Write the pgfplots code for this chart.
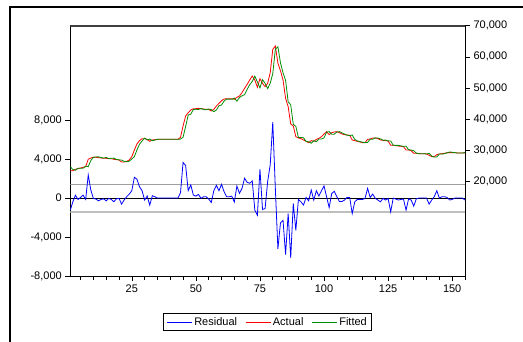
\documentclass[border=0pt]{standalone}
\usepackage{pgfplots}
\pgfplotsset{compat=1.18}
\usepackage{pgfplotstable}
\usepackage{fontspec}
\setmainfont{Liberation Sans}

\pgfplotstableread{
t res act fit
1 -1240 23420 24660
2 -380 23420 23800
3 300 23850 23550
4 -140 24070 24210
5 70 24280 24210
6 300 24500 24200
7 -140 24710 24850
8 2380 27100 24720
9 830 27500 26670
10 -30 27710 27740
11 -100 27710 27810
12 -280 27600 27880
13 -140 27500 27640
14 -70 27390 27460
15 -280 27390 27670
16 -30 27280 27310
17 -140 27280 27420
18 -380 27070 27450
19 -70 26960 27030
20 -30 26860 26890
21 -620 26210 26830
22 -200 26210 26410
23 140 26420 26280
24 410 26860 26450
25 760 27930 27170
26 2140 30070 27930
27 1930 32000 30070
28 1170 33070 31900
29 760 33700 32940
30 -200 33700 33900
31 210 33490 33280
32 -720 32850 33570
33 240 33280 33040
34 140 33380 33240
35 0 33490 33490
36 0 33490 33490
37 0 33490 33490
38 0 33490 33490
39 0 33490 33490
40 0 33490 33490
41 0 33490 33490
42 0 33490 33490
43 0 33490 33490
44 550 34130 33580
45 3650 37800 34150
46 3350 40980 37630
47 760 42050 41290
48 1350 42910 41560
49 310 43340 43030
50 200 43340 43140
51 380 43450 43070
52 -30 43340 43370
53 140 43230 43090
54 140 43120 42980
55 -100 43120 43220
56 -450 42590 43040
57 760 43120 42360
58 1310 44200 42890
59 760 45050 44290
60 1410 45910 44500
61 660 46440 45780
62 140 46550 46410
63 140 46550 46410
64 200 46550 46350
65 -410 46340 46750
66 1240 46980 45740
67 480 47410 46930
68 1000 48480 47480
69 2040 49870 47830
70 1620 51160 49540
71 1520 52550 51030
72 1760 53840 52080
73 -1240 52550 53790
74 -1760 50190 51950
75 2970 52980 50010
76 -1170 51480 52650
77 -1070 50410 51480
78 1690 51480 49790
79 3420 54900 51480
80 7800 62400 54600
81 1000 63470 62470
82 -5210 58000 63210
83 -2550 55550 58100
84 -2280 52550 54830
85 -5800 46660 52460
86 -1590 43980 45570
87 -6140 38420 44560
88 -550 37770 38320
89 -3310 34350 37660
90 -140 33920 34060
91 -380 33700 34080
92 -720 33280 34000
93 70 32850 32780
94 -280 32420 32700
95 830 33070 32240
96 -200 32850 33050
97 760 33490 32730
98 210 33810 33600
99 760 34350 33590
100 1240 35200 33960
101 140 35950 35810
102 -970 34990 35960
103 480 35630 35150
104 690 35840 35150
105 140 35950 35810
106 -350 35630 35980
107 -350 35200 35550
108 -200 34990 35190
109 70 34880 34810
110 70 34770 34700
111 -1590 33280 34870
112 -380 33070 33450
113 -140 32850 32990
114 -140 32640 32780
115 -140 32420 32560
116 -30 32420 32450
117 1000 33490 32490
118 70 33600 33530
119 410 33920 33510
120 -30 33920 33950
121 -200 33700 33900
122 -380 33280 33660
123 -30 33170 33200
124 -200 33070 33270
125 -30 32960 32990
126 -1410 31560 32970
127 0 31560 31560
128 -100 31450 31550
129 -200 31350 31550
130 -140 31240 31380
131 -100 31130 31230
132 -1240 30070 31310
133 -70 30070 30140
134 -200 29850 30050
135 -830 29000 29830
136 -70 29000 29070
137 0 28880 28880
138 0 28880 28880
139 0 28880 28880
140 0 28780 28780
141 -620 28350 28970
142 -200 27930 28130
143 140 27930 27790
144 760 28560 27800
145 0 28780 28780
146 140 28880 28740
147 140 29000 28860
148 70 29210 29140
149 -200 29210 29410
150 -140 29210 29350
151 0 29210 29210
152 0 29100 29100
153 0 29100 29100
154 0 29100 29100
155 -200 29100 29300
}\datatab

\definecolor{fitgreen}{RGB}{0,140,0}

\begin{document}
\begin{tikzpicture}
\useasboundingbox (0,0) rectangle (523pt,-341pt);
\draw[line width=2pt] (10pt,-345pt) -- (10pt,-7pt) -- (530pt,-7pt);
\begin{axis}[
  at={(70.3pt,-276pt)}, anchor=south west,
  scale only axis, width=394.7pt, height=250.3pt,
  xmin=1, xmax=155, ymin=-8000, ymax=17700,
  xtick={25,50,...,150}, minor xtick={5,10,...,155},
  ytick={-8000,-4000,0,4000,8000},
  xtick pos=left, ytick pos=left,
  tick align=outside, major tick length=5pt, minor tick length=4pt,
  every tick/.style={black, line width=0.6pt},
  ticklabel style={font=\fontsize{11}{13}\selectfont},
  /pgf/number format/assume math mode=true,
  /pgf/number format/1000 sep={,},
  scaled y ticks=false,
  axis line style={line width=0.7pt},
]
\addplot[gray!75, line width=1.1pt] coordinates {(1,1430) (155,1430)};
\addplot[gray!50, line width=1.3pt] coordinates {(1,-1430) (155,-1430)};
\addplot[black, line width=0.8pt] coordinates {(1,0) (155,0)};
\addplot[blue, line width=0.8pt] table[x=t, y=res] {\datatab};
\draw[black!75, line width=1.8pt] (rel axis cs:0,1) -- (rel axis cs:1,1);
\end{axis}
\begin{axis}[
  at={(70.3pt,-276pt)}, anchor=south west,
  scale only axis, width=394.7pt, height=250.3pt,
  xmin=1, xmax=155, ymin=-10430, ymax=70000,
  hide x axis,
  axis y line*=right,
  ytick={20000,30000,...,70000},
  tick align=outside, major tick length=5pt,
  every tick/.style={black, line width=0.6pt},
  ticklabel style={font=\fontsize{11}{13}\selectfont},
  /pgf/number format/assume math mode=true,
  /pgf/number format/1000 sep={,},
  scaled y ticks=false,
  axis line style={line width=0.7pt},
  legend columns=3,
  legend style={at={(0.5,-0.184)}, anchor=center, draw=black, line width=0.8pt,
    font=\fontsize{11}{13}\selectfont, inner xsep=3pt, inner ysep=1.5pt,
    /tikz/every even column/.append style={column sep=6pt}},
  legend image code/.code={\draw[#1, line width=0.8pt] (0pt,0pt) -- (25pt,0pt);},
]
\addlegendimage{blue}
\addlegendentry{Residual}
\addplot[red, line width=0.8pt] table[x=t, y=act] {\datatab};
\addlegendentry{Actual}
\addplot[fitgreen, line width=0.8pt] table[x=t, y=fit] {\datatab};
\addlegendentry{Fitted}
\end{axis}
\end{tikzpicture}
\end{document}
